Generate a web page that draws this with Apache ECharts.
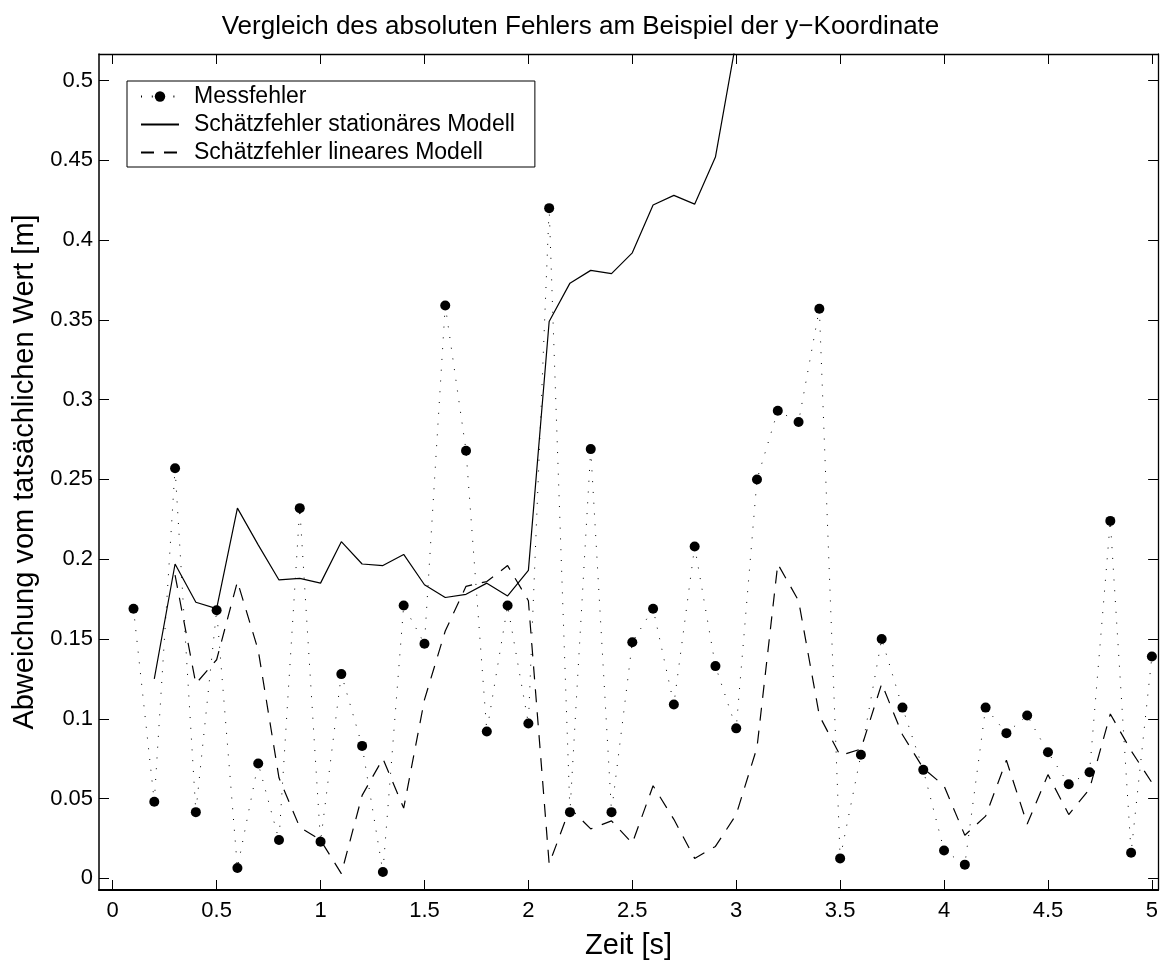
<!DOCTYPE html>
<html>
<head>
<meta charset="utf-8">
<script src="https://cdn.jsdelivr.net/npm/echarts@6/dist/echarts.min.js"></script>
<style>
  html, body { margin: 0; padding: 0; background: #fff; }
  #chart { width: 1161px; height: 965px; }
</style>
</head>
<body>
<div id="chart"></div>
<script>
// Zeitpunkte der Messungen [s]
const zeit = [
  0.1, 0.2, 0.3, 0.4, 0.5, 0.6, 0.7, 0.8, 0.9, 1.0,
  1.1, 1.2, 1.3, 1.4, 1.5, 1.6, 1.7, 1.8, 1.9, 2.0,
  2.1, 2.2, 2.3, 2.4, 2.5, 2.6, 2.7, 2.8, 2.9, 3.0,
  3.1, 3.2, 3.3, 3.4, 3.5, 3.6, 3.7, 3.8, 3.9, 4.0,
  4.1, 4.2, 4.3, 4.4, 4.5, 4.6, 4.7, 4.8, 4.9, 5.0
];

// Absoluter Fehler der Messung [m]
const messfehler = [
  0.169, 0.048, 0.257, 0.0415, 0.168, 0.0065, 0.072, 0.024, 0.232, 0.023,
  0.128, 0.083, 0.004, 0.171, 0.147, 0.359, 0.268, 0.092, 0.171, 0.097,
  0.420, 0.0415, 0.269, 0.0415, 0.148, 0.169, 0.109, 0.208, 0.133, 0.094,
  0.250, 0.293, 0.286, 0.357, 0.0125, 0.0775, 0.150, 0.107, 0.068, 0.0175,
  0.0086, 0.107, 0.091, 0.102, 0.079, 0.059, 0.0665, 0.224, 0.016, 0.139
];

// Schätzfehler des stationären Modells (null = kein Wert)
const stationaer = [
  null, 0.125, 0.197, 0.173, 0.169, 0.232, 0.209, 0.187, 0.188, 0.185,
  0.211, 0.197, 0.196, 0.203, 0.184, 0.176, 0.178, 0.185, 0.177, 0.193,
  0.349, 0.373, 0.381, 0.379, 0.392, 0.422, 0.428, 0.4225, 0.452, 0.525,
  null, null, null, null, null, null, null, null, null, null,
  null, null, null, null, null, null, null, null, null, null
];

// Schätzfehler des linearen Modells (null = kein Wert)
const linear = [
  null, null, 0.190, 0.122, 0.137, 0.186, 0.143, 0.063, 0.032, 0.024,
  0.003, 0.052, 0.075, 0.044, 0.112, 0.155, 0.183, 0.186, 0.196, 0.174,
  0.009, 0.044, 0.031, 0.036, 0.022, 0.058, 0.037, 0.0125, 0.020, 0.040,
  0.082, 0.197, 0.174, 0.102, 0.077, 0.081, 0.122, 0.090, 0.069, 0.058,
  0.027, 0.039, 0.074, 0.034, 0.065, 0.040, 0.056, 0.103, 0.080, 0.060
];

// Achsenbeschriftung
const xTicks = [0, 0.5, 1, 1.5, 2, 2.5, 3, 3.5, 4, 4.5, 5];
const xTickLabels = ['0', '0.5', '1', '1.5', '2', '2.5', '3', '3.5', '4', '4.5', '5'];
const yTicks = [0, 0.05, 0.1, 0.15, 0.2, 0.25, 0.3, 0.35, 0.4, 0.45, 0.5];
const yTickLabels = ['0', '0.05', '0.1', '0.15', '0.2', '0.25', '0.3', '0.35', '0.4', '0.45', '0.5'];

const FONT = "'Liberation Sans', Arial, Helvetica, sans-serif";

function pairs(values) {
  const out = [];
  values.forEach(function (v, i) { if (v !== null) out.push([zeit[i], v]); });
  return out;
}
function labelFor(ticks, labels) {
  return function (v) {
    for (let i = 0; i < ticks.length; i++) {
      if (Math.abs(ticks[i] - v) < 1e-9) return labels[i];
    }
    return '';
  };
}

const X_MIN = -0.066, X_MAX = 5.03;
const Y_MIN = -0.0073, Y_MAX = 0.5166;

const tickStyle = { color: '#000', width: 1 };

const chart = echarts.init(document.getElementById('chart'), null, { renderer: 'canvas' });
chart.setOption({
  animation: false,
  backgroundColor: '#fff',
  title: {
    text: 'Vergleich des absoluten Fehlers am Beispiel der y\u2212Koordinate',
    left: 'center',
    top: 9,
    textStyle: { fontFamily: FONT, fontSize: 26, fontWeight: 'normal', color: '#000' }
  },
  grid: { left: 99, right: 2, top: 54, bottom: 74, containLabel: false },
  legend: {
    orient: 'vertical',
    left: 127,
    top: 81,
    itemWidth: 38,
    itemHeight: 13,
    itemGap: 5,
    padding: [4, 20, 3, 13],
    borderColor: '#000',
    borderWidth: 1,
    backgroundColor: '#fff',
    selectedMode: false,
    textStyle: { fontFamily: FONT, fontSize: 23, color: '#000', padding: [0, 0, 0, 10] },
    data: [
      { name: 'Messfehler' },
      { name: 'Schätzfehler stationäres Modell', itemStyle: { opacity: 0 } },
      { name: 'Schätzfehler lineares Modell', itemStyle: { opacity: 0 } }
    ]
  },
  xAxis: [
    {
      type: 'value', position: 'bottom', min: X_MIN, max: X_MAX,
      name: 'Zeit [s]', nameLocation: 'middle', nameGap: 41,
      nameTextStyle: { fontFamily: FONT, fontSize: 29, color: '#000' },
      axisLine: { show: true, onZero: false, lineStyle: { color: '#000', width: 2 } },
      axisTick: { show: true, inside: true, length: 10, customValues: xTicks, lineStyle: tickStyle },
      axisLabel: {
        show: true, customValues: xTicks, formatter: labelFor(xTicks, xTickLabels),
        fontFamily: FONT, fontSize: 22, color: '#000', margin: 10
      },
      splitLine: { show: false }
    },
    {
      type: 'value', position: 'top', min: X_MIN, max: X_MAX,
      axisLine: { show: true, onZero: false, lineStyle: { color: '#000', width: 1.3 } },
      axisTick: { show: true, inside: true, length: 10, customValues: xTicks, lineStyle: tickStyle },
      axisLabel: { show: false },
      splitLine: { show: false }
    }
  ],
  yAxis: [
    {
      type: 'value', position: 'left', min: Y_MIN, max: Y_MAX,
      name: 'Abweichung vom tatsächlichen Wert [m]', nameLocation: 'middle', nameGap: 56,
      nameTextStyle: { fontFamily: FONT, fontSize: 29, color: '#000' },
      axisLine: { show: true, onZero: false, lineStyle: { color: '#000', width: 1.5 } },
      axisTick: { show: true, inside: true, length: 10, customValues: yTicks, lineStyle: tickStyle },
      axisLabel: {
        show: true, customValues: yTicks, formatter: labelFor(yTicks, yTickLabels),
        fontFamily: FONT, fontSize: 22, color: '#000', margin: 6
      },
      splitLine: { show: false }
    },
    {
      type: 'value', position: 'right', min: Y_MIN, max: Y_MAX,
      axisLine: { show: true, onZero: false, lineStyle: { color: '#000', width: 1.3 } },
      axisTick: { show: true, inside: true, length: 10, customValues: yTicks, lineStyle: tickStyle },
      axisLabel: { show: false },
      splitLine: { show: false }
    }
  ],
  series: [
    {
      name: 'Messfehler',
      type: 'line',
      data: pairs(messfehler),
      symbol: 'circle',
      symbolSize: 10,
      showAllSymbol: true,
      itemStyle: { color: '#000' },
      lineStyle: { color: '#000', width: 1, type: [1, 9.8], cap: 'butt' },
      emphasis: { disabled: true },
      clip: true,
      z: 3
    },
    {
      name: 'Schätzfehler stationäres Modell',
      type: 'line',
      data: pairs(stationaer),
      symbol: 'none',
      itemStyle: { color: '#000' },
      lineStyle: { color: '#000', width: 1.2, type: 'solid' },
      emphasis: { disabled: true },
      clip: true,
      z: 2
    },
    {
      name: 'Schätzfehler lineares Modell',
      type: 'line',
      data: pairs(linear),
      symbol: 'none',
      itemStyle: { color: '#000' },
      lineStyle: { color: '#000', width: 1.2, type: [13, 10], cap: 'butt' },
      emphasis: { disabled: true },
      clip: true,
      z: 2
    }
  ]
});
</script>
</body>
</html>
